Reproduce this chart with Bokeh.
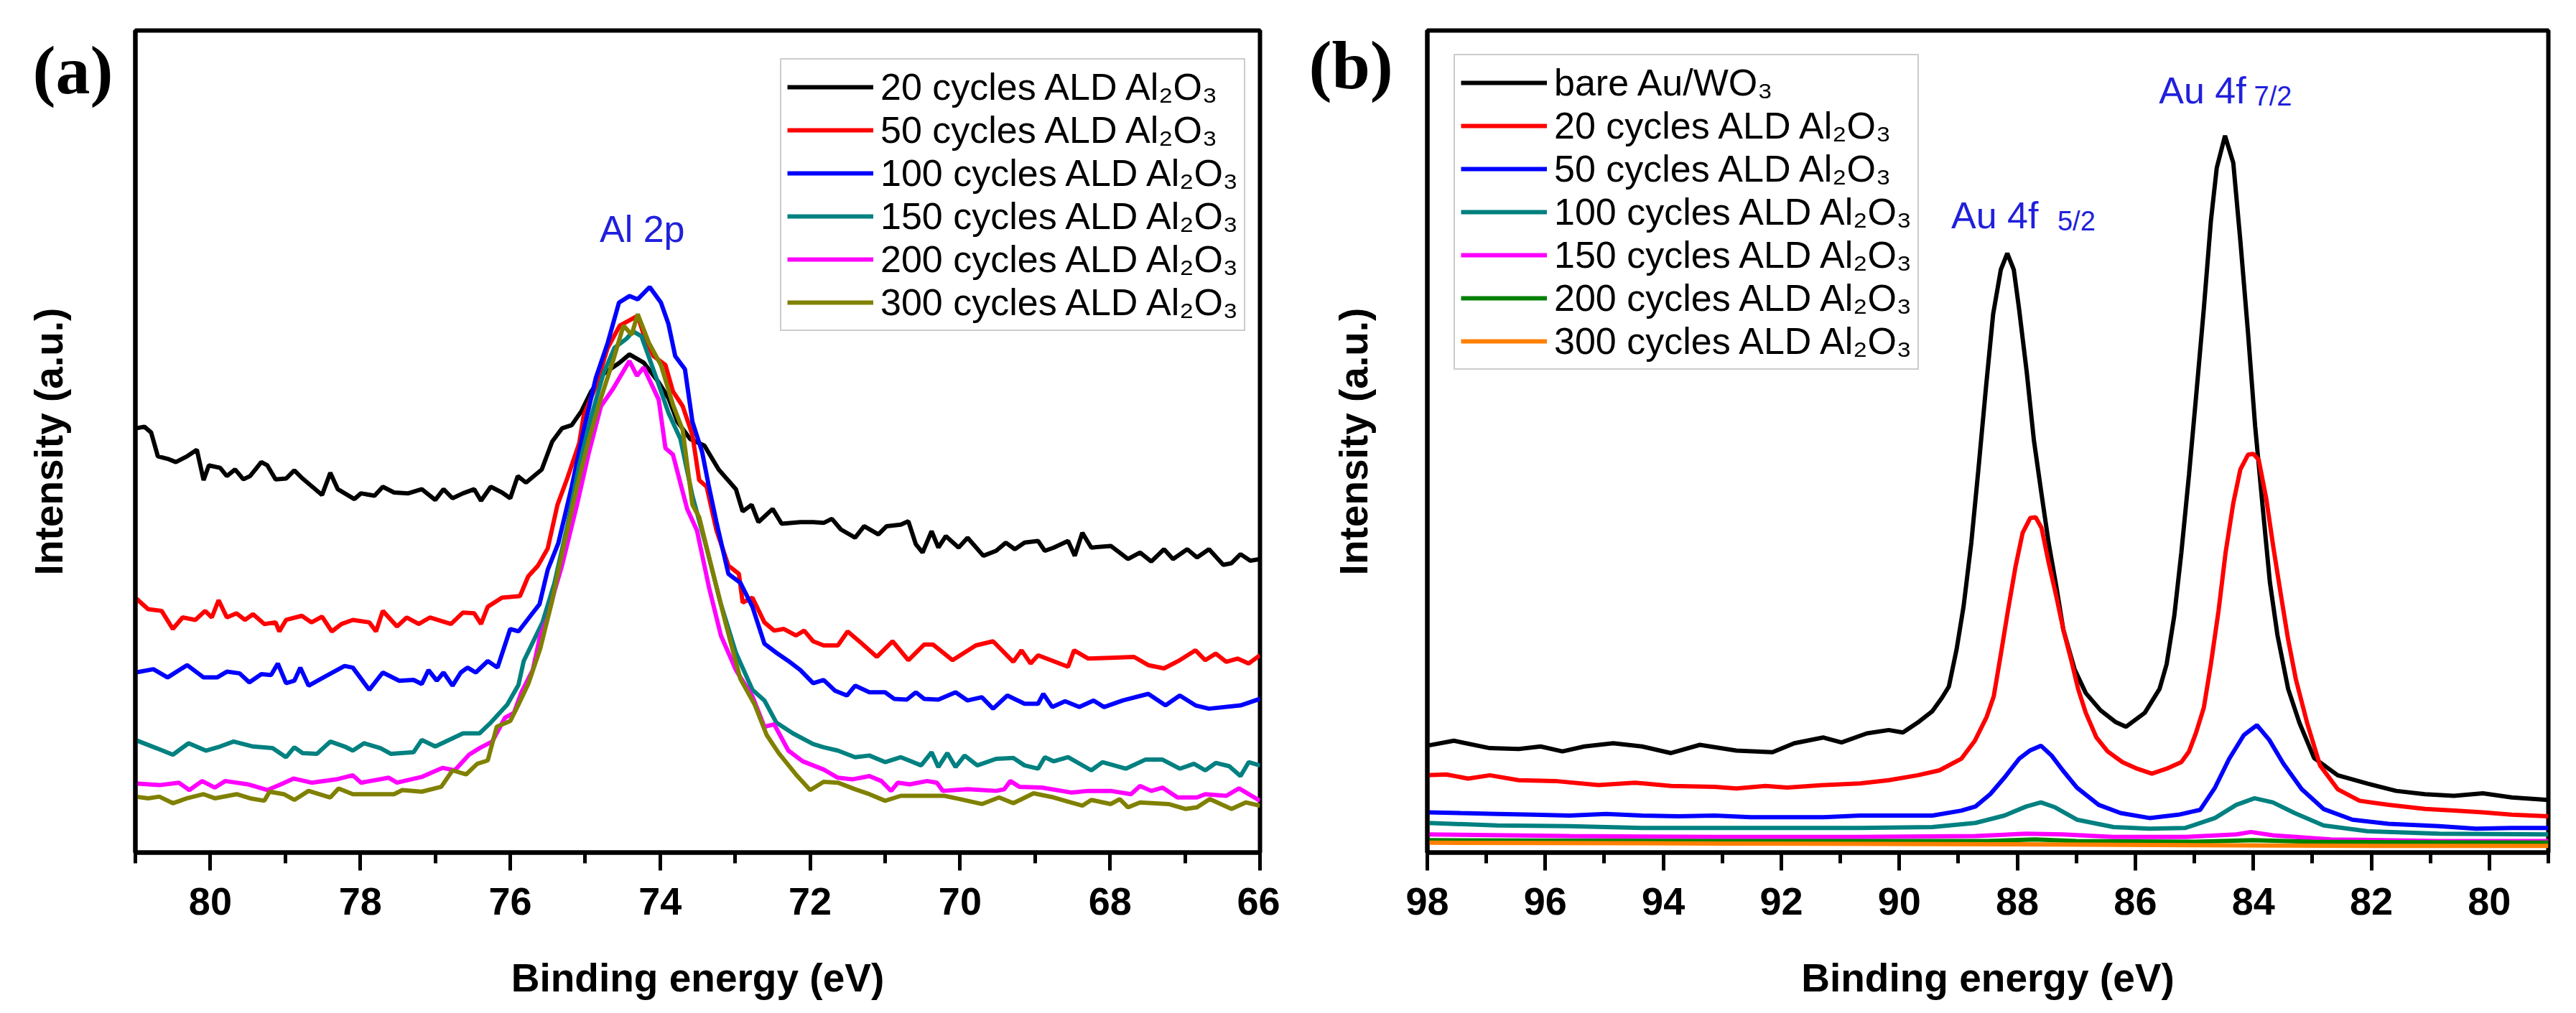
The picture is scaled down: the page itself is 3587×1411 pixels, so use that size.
from bokeh.plotting import figure
from bokeh.models import Range1d, FixedTicker, Label, Title
from bokeh.layouts import row
from bokeh.embed import file_html
from bokeh.resources import INLINE

# -----------------------------
# DATA  (a) Al 2p, intensity in a.u. (0-100 of frame)
# -----------------------------
a_names = ["20 cycles ALD Al₂O₃", "50 cycles ALD Al₂O₃", "100 cycles ALD Al₂O₃",
           "150 cycles ALD Al₂O₃", "200 cycles ALD Al₂O₃", "300 cycles ALD Al₂O₃"]

a20_e = [81.0, 80.88, 80.79, 80.70, 80.57, 80.46, 80.31, 80.18, 80.09, 80.02, 79.87, 79.78, 79.67, 79.56,
         79.47, 79.32, 79.24, 79.13, 78.99, 78.88, 78.77, 78.51, 78.40, 78.30, 78.08, 77.99, 77.81, 77.70,
         77.55, 77.36, 77.18, 77.00, 76.89, 76.77, 76.63, 76.48, 76.39, 76.26, 76.11, 76.00, 75.90, 75.79,
         75.58, 75.44, 75.31, 75.18, 75.05, 74.92, 74.76, 74.54, 74.41, 74.22, 74.02, 73.89, 73.77, 73.60,
         73.41, 73.22, 72.99, 72.90, 72.78, 72.69, 72.50, 72.38, 72.13, 71.96, 71.82, 71.71, 71.59, 71.40,
         71.28, 71.09, 70.98, 70.79, 70.69, 70.59, 70.50, 70.38, 70.29, 70.19, 70.02, 69.90, 69.69, 69.52,
         69.39, 69.27, 69.14, 68.96, 68.87, 68.75, 68.56, 68.47, 68.37, 68.25, 67.99, 67.76, 67.60, 67.45,
         67.28, 67.16, 66.97, 66.84, 66.68, 66.49, 66.38, 66.26, 66.13, 66.00]
a20_i = [51.6, 51.8, 51.1, 48.2, 47.9, 47.5, 48.2, 49.0, 45.3, 47.1, 46.8, 45.8, 46.6, 45.4,
         45.8, 47.5, 47.1, 45.4, 45.5, 46.5, 45.5, 43.5, 46.2, 44.2, 43.0, 43.7, 43.4, 44.5,
         43.8, 43.7, 44.2, 42.9, 44.2, 43.1, 43.7, 44.2, 42.8, 44.5, 43.8, 43.1, 45.8, 45.0,
         46.6, 50.0, 51.6, 52.0, 53.7, 56.1, 58.2, 59.6, 60.6, 59.6, 57.2, 55.3, 52.4, 50.3,
         49.5, 46.6, 44.2, 41.5, 42.3, 40.2, 41.8, 40.0, 40.2, 40.2, 40.1, 40.6, 39.3, 38.3,
         39.7, 38.7, 39.7, 39.9, 40.3, 37.5, 36.5, 39.1, 37.1, 38.5, 37.1, 38.3, 36.1, 36.7,
         37.7, 36.9, 37.7, 37.9, 36.7, 37.1, 37.9, 36.1, 38.9, 37.1, 37.3, 35.7, 36.5, 35.4,
         36.9, 35.7, 36.9, 35.9, 36.9, 35.0, 35.2, 36.3, 35.5, 35.7]

a50_e = [81.0, 80.83, 80.65, 80.50, 80.37, 80.20, 80.07, 79.98, 79.89, 79.78, 79.65, 79.54, 79.43, 79.28,
         79.13, 79.08, 78.99, 78.78, 78.65, 78.51, 78.38, 78.25, 78.10, 77.88, 77.79, 77.70, 77.51, 77.38,
         77.22, 77.07, 76.79, 76.63, 76.48, 76.39, 76.30, 76.11, 75.87, 75.76, 75.63, 75.50, 75.37, 75.24,
         75.08, 75.02, 74.86, 74.70, 74.54, 74.30, 74.22, 74.09, 73.93, 73.83, 73.70, 73.57, 73.48, 73.38,
         73.25, 73.09, 72.95, 72.90, 72.77, 72.61, 72.48, 72.35, 72.19, 72.08, 71.96, 71.82, 71.63, 71.50,
         71.32, 71.11, 70.90, 70.69, 70.48, 70.36, 70.10, 69.79, 69.56, 69.29, 69.18, 69.06, 68.96, 68.79,
         68.56, 68.48, 68.29, 67.99, 67.68, 67.49, 67.28, 67.07, 66.86, 66.73, 66.59, 66.45, 66.30, 66.15, 66.00]
a50_i = [31.0, 29.6, 29.4, 27.2, 28.6, 28.3, 29.4, 28.6, 30.7, 28.6, 29.1, 28.3, 29.0, 27.8,
         28.0, 26.9, 28.3, 28.8, 28.0, 28.7, 26.9, 27.8, 28.3, 28.0, 26.9, 29.4, 27.5, 28.6,
         27.8, 28.6, 27.8, 29.2, 29.1, 27.8, 29.9, 31.0, 31.2, 33.6, 34.9, 37.0, 42.3, 45.5,
         49.8, 53.2, 56.7, 61.4, 64.1, 65.3, 63.0, 60.4, 59.3, 56.1, 54.3, 50.8, 45.3, 44.5,
         39.2, 34.9, 33.9, 30.4, 31.0, 28.0, 27.0, 27.2, 26.4, 27.0, 25.7, 25.2, 25.2, 26.9,
         25.5, 23.8, 25.7, 23.4, 25.3, 25.3, 23.4, 25.2, 25.7, 23.2, 24.6, 23.0, 24.0, 23.4,
         22.6, 24.6, 23.6, 23.7, 23.8, 22.8, 22.4, 23.4, 24.6, 23.4, 24.2, 23.2, 23.6, 23.0, 24.0]

a100_e = [81.0, 80.76, 80.57, 80.31, 80.09, 79.91, 79.78, 79.61, 79.48, 79.32, 79.19, 79.10, 78.99, 78.88,
          78.80, 78.69, 78.47, 78.21, 78.10, 77.88, 77.70, 77.48, 77.29, 77.18, 77.09, 76.98, 76.89, 76.77,
          76.66, 76.57, 76.46, 76.30, 76.17, 76.00, 75.89, 75.73, 75.61, 75.50, 75.36, 75.18, 75.02, 74.86,
          74.70, 74.55, 74.41, 74.30, 74.14, 73.99, 73.89, 73.80, 73.67, 73.57, 73.44, 73.35, 73.25, 73.09,
          72.93, 72.77, 72.61, 72.45, 72.29, 72.13, 71.96, 71.82, 71.67, 71.51, 71.40, 71.21, 71.00, 70.88,
          70.71, 70.59, 70.48, 70.29, 70.06, 69.90, 69.71, 69.56, 69.37, 69.14, 68.96, 68.89, 68.77, 68.60,
          68.41, 68.22, 68.08, 67.83, 67.49, 67.26, 67.07, 66.86, 66.68, 66.26, 66.00]
a100_i = [21.9, 22.3, 21.3, 22.8, 21.3, 21.3, 22.0, 21.8, 20.7, 21.7, 21.6, 23.0, 20.6, 20.9,
          22.5, 20.3, 21.4, 22.7, 22.5, 19.8, 21.9, 20.9, 21.0, 20.5, 22.2, 20.9, 21.9, 20.3,
          21.9, 22.5, 21.9, 23.3, 22.5, 27.2, 26.9, 28.8, 30.2, 34.4, 37.6, 44.5, 51.4, 57.7,
          62.0, 66.9, 67.7, 67.3, 68.8, 66.9, 64.3, 60.4, 58.8, 52.4, 48.7, 44.5, 40.2, 33.9,
          32.8, 29.9, 25.4, 24.3, 23.3, 22.2, 20.6, 21.0, 19.7, 19.1, 20.3, 19.5, 19.5, 18.7,
          18.6, 19.5, 18.7, 18.6, 19.5, 18.5, 18.9, 17.5, 19.1, 18.1, 18.1, 19.3, 17.7, 18.4,
          17.7, 18.5, 17.7, 18.5, 19.3, 17.9, 19.1, 17.9, 17.5, 17.9, 18.7]

a150_e = [81.0, 80.72, 80.50, 80.29, 80.06, 79.87, 79.69, 79.43, 79.17, 78.99, 78.88, 78.77, 78.58, 78.40,
          78.21, 78.10, 77.95, 77.73, 77.59, 77.29, 77.18, 77.00, 76.63, 76.41, 76.26, 76.04, 75.89, 75.82,
          75.57, 75.41, 75.24, 75.08, 74.92, 74.76, 74.61, 74.45, 74.36, 74.25, 74.05, 73.89, 73.73, 73.57,
          73.38, 73.19, 72.99, 72.77, 72.61, 72.45, 72.23, 71.96, 71.82, 71.63, 71.40, 71.21, 71.00, 70.79,
          70.52, 70.38, 70.29, 70.17, 70.06, 69.94, 69.77, 69.52, 69.29, 69.14, 68.96, 68.87, 68.75, 68.56,
          68.25, 68.10, 67.79, 67.53, 67.30, 67.07, 66.88, 66.73, 66.59, 66.41, 66.26, 66.15, 66.00]
a150_i = [13.7, 12.7, 11.9, 13.3, 12.4, 12.9, 13.5, 12.9, 12.7, 11.6, 12.8, 12.1, 12.0, 13.5,
          12.9, 12.4, 13.3, 12.7, 12.0, 12.2, 13.7, 12.9, 14.5, 14.5, 15.8, 18.0, 20.4, 23.3,
          28.0, 32.8, 39.7, 47.1, 53.0, 58.2, 61.4, 62.5, 63.4, 62.8, 57.7, 53.5, 50.3, 43.4,
          37.0, 30.2, 24.3, 19.8, 18.5, 15.8, 14.5, 13.2, 12.8, 12.4, 11.6, 11.8, 11.0, 11.6,
          10.6, 12.2, 10.4, 12.1, 10.4, 11.8, 10.6, 11.4, 11.5, 10.6, 10.2, 11.6, 11.1, 11.6,
          10.0, 11.0, 10.2, 11.3, 11.3, 10.2, 10.8, 10.0, 10.9, 10.5, 9.3, 11.0, 10.6]

a200_e = [81.0, 80.68, 80.42, 80.28, 80.11, 79.94, 79.80, 79.50, 79.24, 79.06, 78.89, 78.65, 78.32, 78.10,
          77.99, 77.62, 77.51, 77.18, 77.03, 76.90, 76.74, 76.55, 76.41, 76.24, 76.07, 75.95, 75.85, 75.70,
          75.60, 75.50, 75.41, 75.31, 75.11, 74.95, 74.79, 74.63, 74.41, 74.31, 74.22, 74.02, 73.93, 73.83,
          73.64, 73.51, 73.35, 73.19, 72.99, 72.77, 72.61, 72.48, 72.29, 72.10, 71.82, 71.63, 71.44, 71.21,
          71.05, 70.92, 70.83, 70.67, 70.44, 70.31, 70.23, 69.90, 69.52, 69.41, 69.33, 69.21, 68.91, 68.52,
          68.29, 67.99, 67.72, 67.60, 67.45, 67.30, 67.10, 66.84, 66.73, 66.45, 66.28, 66.15, 66.00]
a200_i = [8.4, 8.2, 8.5, 7.6, 8.7, 7.9, 8.7, 8.3, 7.6, 8.3, 9.0, 8.5, 8.9, 9.4,
          8.5, 9.1, 8.5, 9.2, 9.8, 10.3, 10.0, 11.9, 12.7, 13.5, 16.4, 17.0, 19.5, 22.2,
          26.4, 28.6, 31.8, 34.9, 42.3, 48.7, 54.3, 56.4, 59.8, 58.0, 59.0, 55.1, 49.2, 48.4,
          41.8, 39.2, 32.3, 26.4, 22.2, 19.0, 15.3, 15.6, 12.4, 11.1, 10.1, 9.1, 8.9, 9.3,
          8.7, 7.5, 8.5, 8.3, 8.7, 8.5, 7.5, 7.7, 7.5, 7.7, 8.7, 8.0, 7.9, 7.3,
          7.5, 7.5, 7.1, 8.1, 7.5, 7.9, 6.7, 6.7, 7.1, 6.9, 7.8, 7.1, 6.3]

a300_e = [81.0, 80.83, 80.68, 80.50, 80.31, 80.09, 79.94, 79.65, 79.47, 79.28, 79.21, 79.02, 78.88, 78.69,
          78.40, 78.29, 78.10, 77.81, 77.55, 77.44, 77.18, 76.92, 76.77, 76.59, 76.44, 76.30, 76.18, 76.00,
          75.89, 75.76, 75.60, 75.44, 75.28, 75.11, 74.95, 74.79, 74.63, 74.49, 74.38, 74.30, 74.15, 73.99,
          73.83, 73.70, 73.57, 73.48, 73.32, 73.13, 72.93, 72.74, 72.58, 72.42, 72.19, 72.00, 71.82, 71.63,
          71.40, 71.21, 71.00, 70.79, 70.52, 70.21, 70.00, 69.71, 69.48, 69.29, 69.02, 68.75, 68.56, 68.37,
          68.25, 67.99, 67.87, 67.76, 67.60, 67.22, 66.99, 66.84, 66.67, 66.38, 66.19, 66.00]
a300_i = [6.8, 6.6, 6.8, 6.0, 6.6, 7.1, 6.6, 7.1, 6.6, 6.3, 7.4, 7.1, 6.4, 7.5,
          6.7, 7.8, 7.1, 7.1, 7.1, 7.6, 7.4, 8.0, 10.0, 9.5, 10.8, 11.2, 15.3, 16.0,
          18.0, 20.5, 24.8, 30.7, 37.6, 44.5, 50.3, 55.3, 59.8, 64.1, 63.0, 65.5, 62.0, 59.3,
          54.5, 51.4, 42.3, 40.8, 34.9, 28.0, 21.1, 18.0, 14.3, 12.1, 9.5, 7.6, 8.6, 8.5,
          7.7, 7.1, 6.3, 6.9, 6.9, 6.9, 6.5, 5.9, 6.7, 6.0, 7.2, 6.7, 6.2, 5.7,
          6.4, 5.9, 6.5, 5.5, 6.1, 5.9, 5.3, 5.5, 6.5, 5.3, 6.1, 5.7]

a_colors = ["#000000", "#FF0000", "#0000FF", "#008080", "#FF00FF", "#808000"]

# -----------------------------
# DATA  (b) Au 4f
# -----------------------------
b_names = ["bare Au/WO₃", "20 cycles ALD Al₂O₃", "50 cycles ALD Al₂O₃", "100 cycles ALD Al₂O₃",
           "150 cycles ALD Al₂O₃", "200 cycles ALD Al₂O₃", "300 cycles ALD Al₂O₃"]

b0_e = [98.0, 97.55, 96.94, 96.45, 96.08, 95.71, 95.34, 94.85, 94.36, 93.87, 93.38, 92.76, 92.15, 91.78,
        91.29, 90.98, 90.55, 90.18, 89.94, 89.69, 89.44, 89.28, 89.16, 89.03, 88.91, 88.78, 88.66, 88.53,
        88.41, 88.28, 88.17, 88.06, 87.97, 87.84, 87.72, 87.59, 87.47, 87.34, 87.22, 87.03, 86.84, 86.59,
        86.34, 86.16, 85.84, 85.59, 85.47, 85.34, 85.22, 85.09, 84.97, 84.84, 84.72, 84.62, 84.48, 84.34,
        84.22, 84.09, 83.97, 83.84, 83.72, 83.59, 83.41, 83.22, 82.97, 82.57, 82.07, 81.58, 81.09, 80.60,
        80.11, 79.62, 79.0]
b0_i = [13.0, 13.6, 12.7, 12.6, 12.9, 12.3, 12.9, 13.3, 12.9, 12.1, 13.1, 12.4, 12.2, 13.3,
        14.0, 13.4, 14.5, 14.9, 14.6, 15.8, 17.2, 18.8, 20.2, 24.7, 30.0, 37.7, 46.6, 56.7,
        65.5, 70.9, 72.9, 70.9, 66.1, 58.4, 50.2, 43.6, 37.7, 32.4, 27.1, 22.3, 19.4, 17.3,
        15.9, 15.3, 17.0, 19.9, 22.9, 28.8, 36.5, 46.0, 55.5, 66.1, 76.8, 83.3, 87.2, 83.9,
        74.4, 63.2, 51.9, 41.9, 32.9, 26.4, 19.9, 15.8, 11.5, 9.4, 8.4, 7.5, 7.1, 6.9,
        7.2, 6.7, 6.4]

b20_e = [98.0, 97.68, 97.31, 96.94, 96.45, 95.83, 95.10, 94.48, 93.87, 93.13, 92.76, 92.27, 91.90, 91.29,
         90.67, 90.18, 89.69, 89.32, 88.95, 88.72, 88.52, 88.40, 88.28, 88.16, 88.03, 87.91, 87.78, 87.69,
         87.59, 87.47, 87.34, 87.22, 87.09, 86.97, 86.84, 86.66, 86.47, 86.22, 85.97, 85.72, 85.47, 85.22,
         85.09, 84.97, 84.84, 84.72, 84.59, 84.47, 84.34, 84.22, 84.09, 84.00, 83.91, 83.78, 83.66, 83.53,
         83.41, 83.28, 83.09, 82.87, 82.57, 82.20, 81.71, 81.09, 80.60, 80.11, 79.62, 79.0]
b20_i = [9.4, 9.5, 9.0, 9.4, 8.8, 8.7, 8.2, 8.5, 8.1, 8.0, 7.8, 8.1, 7.9, 8.2,
         8.4, 8.8, 9.4, 10.0, 11.4, 13.6, 16.5, 19.0, 24.1, 29.4, 34.8, 38.9, 40.7, 40.8,
         39.5, 35.3, 31.2, 27.1, 23.5, 19.9, 17.0, 14.0, 12.3, 11.0, 10.2, 9.6, 10.2, 11.0,
         12.3, 14.6, 17.6, 22.9, 29.4, 36.5, 42.5, 46.6, 48.4, 48.5, 47.8, 43.0, 37.1, 31.2,
         25.9, 21.1, 15.8, 10.6, 7.7, 6.3, 5.8, 5.3, 5.1, 4.9, 4.6, 4.4]

b50_e = [98.0, 97.43, 96.82, 96.20, 95.59, 94.97, 94.36, 93.74, 93.13, 92.52, 91.90, 91.29, 90.67, 90.06,
         89.44, 88.95, 88.71, 88.46, 88.22, 87.97, 87.79, 87.60, 87.42, 87.23, 86.99, 86.62, 86.25, 85.76,
         85.27, 84.90, 84.65, 84.41, 84.16, 83.94, 83.73, 83.49, 83.18, 82.81, 82.32, 81.71, 80.85, 80.23,
         79.62, 79.0]
b50_i = [4.9, 4.8, 4.7, 4.6, 4.5, 4.7, 4.5, 4.4, 4.5, 4.3, 4.3, 4.3, 4.5, 4.5,
         4.5, 5.1, 5.6, 7.1, 9.1, 11.4, 12.4, 13.0, 11.8, 10.0, 7.9, 5.8, 4.8, 4.2,
         4.6, 5.2, 7.9, 11.4, 14.3, 15.5, 13.7, 10.8, 7.7, 5.3, 4.0, 3.5, 3.2, 2.9,
         3.0, 3.0]

b100_e = [98.0, 96.82, 95.59, 94.36, 93.13, 91.90, 90.67, 89.44, 88.71, 88.22, 87.85, 87.60, 87.36, 86.99,
          86.37, 85.76, 85.15, 84.65, 84.29, 83.98, 83.67, 83.30, 82.81, 82.07, 80.85, 79.0]
b100_i = [3.6, 3.3, 3.2, 3.0, 3.0, 3.0, 3.0, 3.1, 3.6, 4.5, 5.6, 6.1, 5.5, 4.0,
          3.1, 2.9, 3.0, 4.2, 5.8, 6.6, 6.1, 4.8, 3.3, 2.6, 2.3, 2.2]

b150_e = [98.0, 95.59, 93.13, 90.67, 88.71, 87.85, 87.23, 86.37, 85.15, 84.29, 84.04, 83.67, 82.69, 80.85, 79.0]
b150_i = [2.2, 2.0, 1.9, 1.9, 2.0, 2.3, 2.2, 1.9, 1.9, 2.2, 2.5, 2.1, 1.6, 1.4, 1.4]

b200_e = [98.0, 93.0, 88.5, 87.7, 87.0, 85.0, 84.0, 83.0, 79.0]
b200_i = [1.5, 1.4, 1.4, 1.6, 1.4, 1.3, 1.5, 1.3, 1.2]

b300_e = [98.0, 93.0, 88.0, 85.0, 82.0, 79.0]
b300_i = [1.2, 1.1, 1.0, 0.9, 0.8, 0.8]

b_colors = ["#000000", "#FF0000", "#0000FF", "#008080", "#FF00FF", "#008000", "#FF8000"]

a_ticks = [66, 68, 70, 72, 74, 76, 78, 80]
a_minor = [67, 69, 71, 73, 75, 77, 79, 81]
b_ticks = [80, 82, 84, 86, 88, 90, 92, 94, 96, 98]
b_minor = [79, 81, 83, 85, 87, 89, 91, 93, 95, 97]

SANS = "Liberation Sans"
BLUE_TXT = "#2020DC"


def make_panel(x_rng, major, minor, border_left, border_right, border_top, frame_h, width):
    p = figure(width=width, height=1395, x_range=Range1d(*x_rng), y_range=Range1d(0, 100),
               output_backend="svg", toolbar_location=None,
               min_border_left=border_left, min_border_right=border_right,
               min_border_top=border_top, min_border_bottom=1395 - border_top - frame_h)
    p.xgrid.visible = False
    p.ygrid.visible = False
    p.outline_line_color = "black"
    p.outline_line_width = 6
    p.outline_line_alpha = 1

    ax = p.xaxis[0]
    ax.ticker = FixedTicker(ticks=major, minor_ticks=minor)
    ax.axis_line_width = 6
    ax.major_tick_line_width = 5
    ax.minor_tick_line_width = 5
    ax.major_tick_out = 25
    ax.major_tick_in = 0
    ax.minor_tick_out = 15
    ax.minor_tick_in = 0
    ax.major_label_text_font = SANS
    ax.major_label_text_font_style = "bold"
    ax.major_label_text_font_size = "54px"
    ax.major_label_text_color = "black"
    ax.major_label_standoff = 24
    ax.axis_label = "Binding energy (eV)"
    ax.axis_label_text_font = SANS
    ax.axis_label_text_font_style = "bold"
    ax.axis_label_text_font_size = "55px"
    ax.axis_label_text_color = "black"
    ax.axis_label_standoff = 54

    ay = p.yaxis[0]
    ay.ticker = FixedTicker(ticks=[])
    ay.axis_line_width = 6
    ay.major_tick_line_color = None
    ay.minor_tick_line_color = None
    ay.major_label_text_font_size = "0px"
    ay.major_label_standoff = 0
    ay.axis_label = "Intensity (a.u.)"
    ay.axis_label_text_font = SANS
    ay.axis_label_text_font_style = "bold"
    ay.axis_label_text_font_size = "55px"
    ay.axis_label_text_color = "black"
    return p


def style_legend(p, loc):
    lg = p.legend[0]
    lg.location = loc
    lg.label_text_font = SANS
    lg.label_text_font_size = "52px"
    lg.label_text_color = "black"
    lg.glyph_width = 120
    lg.glyph_height = 50
    lg.label_height = 50
    lg.label_standoff = 10
    lg.spacing = 0
    lg.padding = 8
    lg.border_line_color = "#9A9A9A"
    lg.border_line_width = 2
    lg.background_fill_color = "white"
    lg.background_fill_alpha = 1


def panel_tag(p, text, offset, standoff):
    # "(a)" / "(b)" sits left of the frame, so it is placed as a shifted title
    t = Title(text=text, align="left", vertical_align="bottom", offset=offset, standoff=standoff,
              text_font="Liberation Serif", text_font_style="bold", text_font_size="96px",
              text_color="black")
    p.add_layout(t, "above")


# -----------------------------
# PANEL (a)
# -----------------------------
pa = make_panel((81, 66), a_ticks, a_minor, 188, 28, 35, 1154, 1782)
pa.yaxis[0].axis_label_standoff = 90
a_series = [(a20_e, a20_i), (a50_e, a50_i), (a100_e, a100_i),
            (a150_e, a150_i), (a200_e, a200_i), (a300_e, a300_i)]
for (xs, ys), name, col in zip(a_series, a_names, a_colors):
    pa.line(xs, ys, line_color=col, line_width=6, legend_label=name)
style_legend(pa, (898, 726))

pa.add_layout(Label(x=74.24, y=73.3, text="Al 2p", text_align="center", text_baseline="bottom",
                    text_font=SANS, text_font_size="52px", text_color=BLUE_TXT))
panel_tag(pa, "(a)", -143, -216)

# -----------------------------
# PANEL (b)
# -----------------------------
pb = make_panel((98, 79), b_ticks, b_minor, 205, 23, 42, 1149, 1789)
pb.yaxis[0].axis_label_standoff = 72
b_series = [(b0_e, b0_i), (b20_e, b20_i), (b50_e, b50_i), (b100_e, b100_i),
            (b150_e, b150_i), (b200_e, b200_i), (b300_e, b300_i)]
for (xs, ys), name, col in zip(b_series, b_names, b_colors):
    pb.line(xs, ys, line_color=col, line_width=6, legend_label=name)
style_legend(pb, (37, 672))

pb.add_layout(Label(x=89.12, y=75.0, text="Au 4f", text_baseline="bottom",
                    text_font=SANS, text_font_size="52px", text_color=BLUE_TXT))
pb.add_layout(Label(x=87.32, y=75.0, text="5/2", text_baseline="bottom",
                    text_font=SANS, text_font_size="38px", text_color=BLUE_TXT))
pb.add_layout(Label(x=85.6, y=90.2, text="Au 4f", text_baseline="bottom",
                    text_font=SANS, text_font_size="52px", text_color=BLUE_TXT))
pb.add_layout(Label(x=83.99, y=90.2, text="7/2", text_baseline="bottom",
                    text_font=SANS, text_font_size="38px", text_color=BLUE_TXT))
panel_tag(pb, "(b)", -165, -202)

layout = row(pa, pb)
open("out.html", "w").write(file_html(layout, INLINE))
